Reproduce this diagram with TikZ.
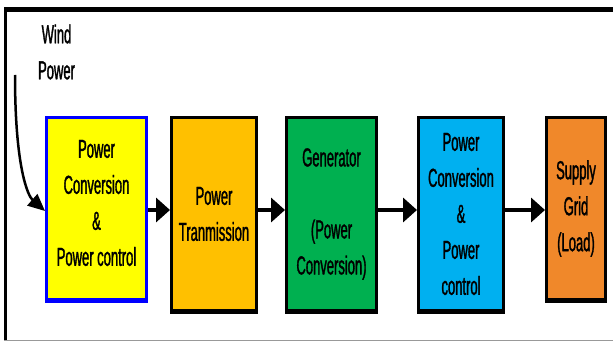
\documentclass[tikz,border=0pt]{standalone}
\usepackage{fontspec}
\setmainfont{Liberation Sans}[FakeStretch=0.5,FakeBold=1.2]
\usetikzlibrary{arrows.meta}
\definecolor{cYellow}{HTML}{FFFF00}
\definecolor{cOrange}{HTML}{FFC000}
\definecolor{cGreen}{HTML}{00B050}
\definecolor{cCyan}{HTML}{00B0F0}
\definecolor{cOrangeB}{HTML}{F0882A}
\definecolor{cBlue}{HTML}{0000FF}
\tikzset{
  txt/.style={font=\fontsize{26}{36}\selectfont, align=center, inner sep=0pt},
  blockbox/.style={txt, draw=black, line width=3pt, minimum width=#1},
  shadowed/.style={preaction={draw=#1, line width=3pt, transform canvas={yshift=-2.5pt}}},
  flow/.style={line width=4.5pt, -{Triangle[length=14pt,width=24pt]}},
  wind/.style={line width=2.5pt, -{Triangle[length=17pt,width=15pt]}},
}
\begin{document}
\begin{tikzpicture}[x=1pt,y=-1pt]
\useasboundingbox (0,0) rectangle (613,342);
% frame
\draw[line width=4.5pt] (4,9.5) -- (613,9.5);
\draw[line width=2.5pt] (5.3,9) -- (5.3,340);
\draw[line width=1.5pt, gray!80] (4,340.5) -- (613,340.5);
% blocks
\node[blockbox=100pt, minimum height=181pt, fill=cYellow, draw=cBlue, shadowed=cBlue] (A) at (96.5,208.5) {};
\node[txt] (At) at (A.center |- 0,203) {Power\\Conversion\\\&\\Power control};
\node[blockbox=85pt, minimum height=192pt, fill=cOrange, shadowed=black] (B) at (214,214)
  {Power\\Tranmission};
\node[blockbox=90pt, minimum height=192pt, fill=cGreen, shadowed=black] (C) at (331.5,214)
  {Generator\\\strut\\(Power\\Conversion)};
\node[blockbox=85pt, minimum height=192pt, fill=cCyan, shadowed=black] (D) at (461,214)
  {Power\\Conversion\\\&\\Power\\control};
\node[blockbox=59pt, minimum height=181pt, fill=cOrangeB, shadowed=black] (E) at (576,208.5)
  {Supply\\Grid\\(Load)};
% label
\node[txt] (W) at (56.5,52) {Wind\\Power};
\coordinate (ws) at (15,75);
% connectors
\draw[wind] (ws) .. controls (15,168) and (28,196) .. (A.west |- 0,211);
\draw[flow] (A.east |- 0,210) -- (B.west |- 0,210);
\draw[flow] (B.east |- 0,210) -- (C.west |- 0,210);
\draw[flow] (C.east |- 0,210) -- (D.west |- 0,210);
\draw[flow] (D.east |- 0,210) -- (E.west |- 0,210);
\end{tikzpicture}
\end{document}
